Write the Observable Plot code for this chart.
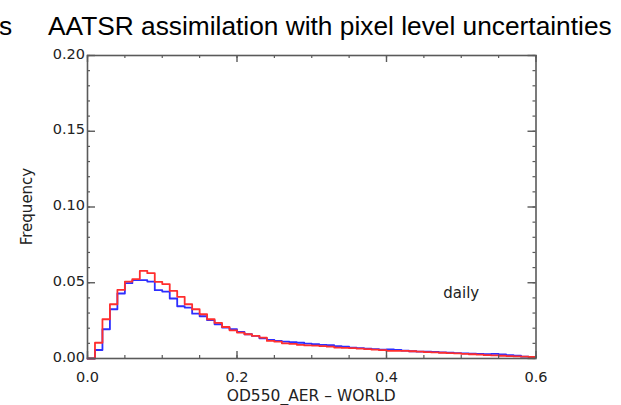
<!DOCTYPE html>
<html><head><meta charset="utf-8">
<script src="https://cdn.jsdelivr.net/npm/d3@7"></script>
<script src="https://cdn.jsdelivr.net/npm/@observablehq/plot@0.6"></script>
<style>
html,body{margin:0;padding:0;background:#fff;}
#chart{position:relative;width:621px;height:405px;overflow:hidden;}
</style></head><body><div id="chart"></div>
<script>
// ---- data ----
const binStart = [0.00,0.01,0.02,0.03,0.04,0.05,0.06,0.07,0.08,0.09,
  0.10,0.11,0.12,0.13,0.14,0.15,0.16,0.17,0.18,0.19,
  0.20,0.21,0.22,0.23,0.24,0.25,0.26,0.27,0.28,0.29,
  0.30,0.31,0.32,0.33,0.34,0.35,0.36,0.37,0.38,0.39,
  0.40,0.41,0.42,0.43,0.44,0.45,0.46,0.47,0.48,0.49,
  0.50,0.51,0.52,0.53,0.54,0.55,0.56,0.57,0.58,0.59];
const binEnd = 0.60;
const blueValues = [0.0000,0.0056,0.0193,0.0325,0.0429,0.0497,0.0517,0.0517,0.0508,0.0451,
  0.0442,0.0396,0.0345,0.0336,0.0296,0.0279,0.0253,0.0226,0.0204,0.0193,
  0.0175,0.0160,0.0149,0.0133,0.0122,0.0116,0.0112,0.0108,0.0104,0.0098,
  0.0094,0.0090,0.0088,0.0082,0.0078,0.0072,0.0068,0.0065,0.0062,0.0058,
  0.0060,0.0056,0.0052,0.0048,0.0045,0.0045,0.0044,0.0040,0.0038,0.0036,
  0.0034,0.0032,0.0030,0.0028,0.0030,0.0027,0.0022,0.0018,0.0012,0.0010];
const redValues = [0.0000,0.0104,0.0259,0.0358,0.0453,0.0508,0.0524,0.0579,0.0563,0.0506,
  0.0491,0.0446,0.0407,0.0358,0.0325,0.0292,0.0259,0.0235,0.0208,0.0186,
  0.0171,0.0160,0.0149,0.0138,0.0116,0.0111,0.0100,0.0096,0.0090,0.0086,
  0.0085,0.0082,0.0078,0.0072,0.0070,0.0068,0.0065,0.0062,0.0058,0.0055,
  0.0050,0.0050,0.0050,0.0048,0.0046,0.0042,0.0040,0.0038,0.0036,0.0034,
  0.0030,0.0028,0.0026,0.0022,0.0020,0.0018,0.0016,0.0014,0.0012,0.0010];
const xTicks = [0, 0.2, 0.4, 0.6];
const xTickLabels = ["0.0", "0.2", "0.4", "0.6"];
const yTicks = [0, 0.05, 0.10, 0.15, 0.20];
const yTickLabels = ["0.00", "0.05", "0.10", "0.15", "0.20"];
const xMinorTicks = d3.range(0, 0.6001, 0.05);
const yMinorTicks = d3.range(0, 0.2001, 0.01);
const titleText = "AATSR assimilation with pixel level uncertainties";
const leftFragment = "s";
const xTitle = "OD550_AER – WORLD";
const yTitle = "Frequency";
const noteText = ["daily"];
const noteX = [0.5];
const noteY = [0.043];

// ---- build ----
const W = 621, H = 405, mL = 87, mR = 85.5, mT = 55, mB = 47;
const fw = W - mL - mR, fh = H - mT - mB;
const steps = vals => binStart.map((x, i) => ({x, y: vals[i]})).concat([{x: binEnd, y: vals[vals.length - 1]}]);
const blueData = steps(blueValues);
const redData = steps(redValues);
const notes = noteText.map((t, i) => ({t, x: noteX[i], y: noteY[i]}));
const axisCol = "#5a5a5a";

const svg = Plot.plot({
  width: W, height: H,
  marginLeft: mL, marginRight: mR, marginTop: mT, marginBottom: mB,
  style: {fontFamily: "DejaVu Sans", fontSize: "15px", color: "#222", background: "white"},
  x: {domain: [0, 0.6]},
  y: {domain: [0, 0.2]},
  marks: [
    Plot.line(blueData, {x: "x", y: "y", curve: "step-after", stroke: "#2e2eff", strokeWidth: 1.8}),
    Plot.line(redData, {x: "x", y: "y", curve: "step-after", stroke: "#ff2e2e", strokeWidth: 1.8}),
    Plot.ruleX(xMinorTicks, {stroke: axisCol, strokeWidth: 1.2, insetTop: fh - 3}),
    Plot.ruleX(xMinorTicks, {stroke: axisCol, strokeWidth: 1.2, insetBottom: fh - 3}),
    Plot.ruleX(xTicks, {stroke: axisCol, strokeWidth: 1.4, insetTop: fh - 7}),
    Plot.ruleX(xTicks, {stroke: axisCol, strokeWidth: 1.4, insetBottom: fh - 7}),
    Plot.ruleY(yMinorTicks, {stroke: axisCol, strokeWidth: 1.2, insetRight: fw - 3}),
    Plot.ruleY(yMinorTicks, {stroke: axisCol, strokeWidth: 1.2, insetLeft: fw - 3}),
    Plot.ruleY(yTicks, {stroke: axisCol, strokeWidth: 1.4, insetRight: fw - 8}),
    Plot.ruleY(yTicks, {stroke: axisCol, strokeWidth: 1.4, insetLeft: fw - 8}),
    Plot.frame({stroke: axisCol, strokeWidth: 1.6}),
    Plot.axisX({ticks: xTicks, tickSize: 0, tickPadding: 13.5, label: null, fontSize: 14.5,
      tickFormat: d => xTickLabels[xTicks.indexOf(d)]}),
    Plot.axisY({ticks: yTicks, tickSize: 0, tickPadding: 2.5, label: null, dy: -1.5, fontSize: 14.5,
      tickFormat: d => yTickLabels[yTicks.indexOf(d)]}),
    Plot.text(notes, {x: "x", y: "y", text: "t", fontSize: 15, fill: "#222"})
  ]
});

const s = d3.select(svg);
s.append("text").attr("x", -1).attr("y", 35).attr("text-anchor", "start")
  .attr("font-family", "Liberation Sans, Arial, sans-serif").attr("font-size", 26.3).attr("fill", "#000")
  .text(leftFragment);
s.append("text").attr("x", 48).attr("y", 35).attr("text-anchor", "start")
  .attr("font-family", "Liberation Sans, Arial, sans-serif").attr("font-size", 26.3).attr("fill", "#000")
  .text(titleText);
s.append("text").attr("x", mL + fw / 2).attr("y", 400.5).attr("text-anchor", "middle")
  .attr("font-family", "DejaVu Sans").attr("font-size", 15.5).attr("fill", "#222")
  .text(xTitle);
s.append("text").attr("transform", `translate(32,${mT + fh / 2}) rotate(-90)`).attr("text-anchor", "middle")
  .attr("font-family", "DejaVu Sans").attr("font-size", 15).attr("fill", "#222")
  .text(yTitle);

document.getElementById("chart").appendChild(svg);
</script></body></html>
